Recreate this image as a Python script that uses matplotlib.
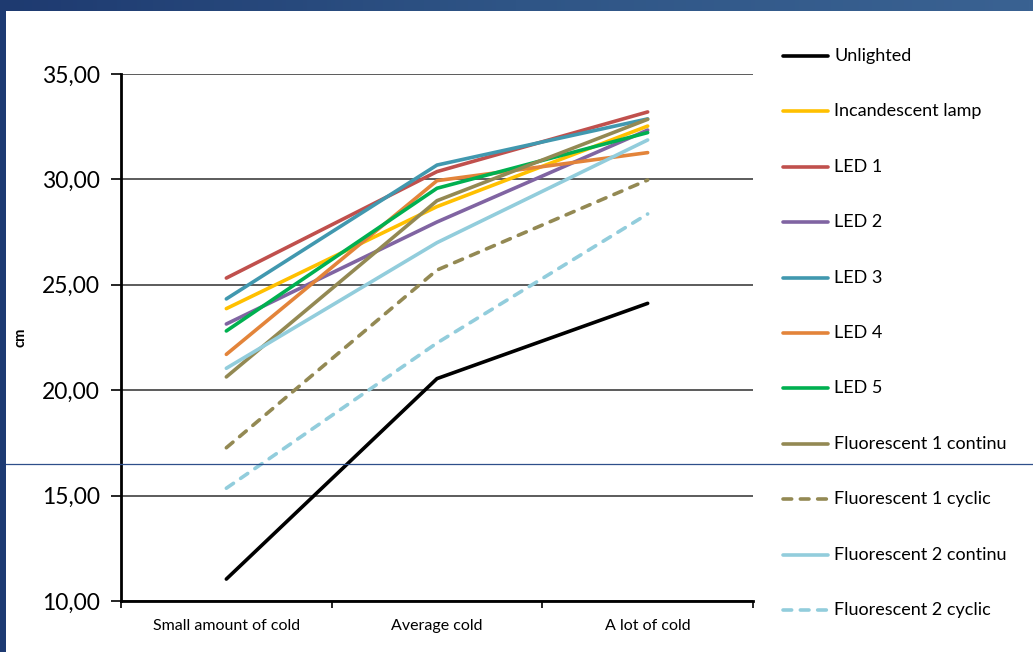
import matplotlib
matplotlib.use("Agg")
import matplotlib.pyplot as plt
import numpy as np
from matplotlib.lines import Line2D
from matplotlib.ticker import FuncFormatter
from matplotlib.colors import LinearSegmentedColormap

plt.rcParams['font.family'] = ['Lato', 'DejaVu Sans']

categories = ['Small amount of cold', 'Average cold', 'A lot of cold']
series_names = ['Unlighted', 'Incandescent lamp', 'LED 1', 'LED 2', 'LED 3', 'LED 4', 'LED 5',
                'Fluorescent 1 continu', 'Fluorescent 1 cyclic',
                'Fluorescent 2 continu', 'Fluorescent 2 cyclic']
unlighted = [11.04, 20.55, 24.12]
incandescent = [23.87, 28.71, 32.53]
led1 = [25.32, 30.37, 33.20]
led2 = [23.14, 27.98, 32.34]
led3 = [24.33, 30.68, 32.87]
led4 = [21.70, 29.94, 31.27]
led5 = [22.81, 29.58, 32.22]
fluo1_cont = [20.63, 28.99, 32.85]
fluo1_cyc = [17.27, 25.70, 29.97]
fluo2_cont = [21.04, 27.00, 31.87]
fluo2_cyc = [15.35, 22.24, 28.36]
values = [unlighted, incandescent, led1, led2, led3, led4, led5,
          fluo1_cont, fluo1_cyc, fluo2_cont, fluo2_cyc]

colors = ['#000000', '#FFC000', '#C0504D', '#8064A2', '#4198AF', '#E3843A', '#00B050',
          '#938953', '#938953', '#92CDDC', '#92CDDC']
dashed = [False] * 8 + [True, False, True]

W, H = 1033, 652
fig = plt.figure(figsize=(W / 100, H / 100), dpi=100)
fig.patch.set_facecolor('white')

# dark blue frame (top band with gradient, left strip)
top = fig.add_axes([0, 1 - 11 / H, 1, 11 / H])
grad = np.linspace(0, 1, 256).reshape(1, -1)
cmap = LinearSegmentedColormap.from_list('band', ['#1E3A70', '#2F5586', '#3A6292'])
top.imshow(grad, aspect='auto', cmap=cmap, extent=[0, 1, 0, 1])
top.axis('off')
left = fig.add_axes([0, 0, 6 / W, 1 - 11 / H])
left.set_facecolor('#1D3A72')
left.set_xticks([]); left.set_yticks([])
for s in left.spines.values():
    s.set_visible(False)

ax = fig.add_axes([121 / W, 1 - 601 / H, (753 - 121) / W, (601 - 74) / H])
x = np.arange(len(categories))
lw = 2.6
for name, vals, c, d in zip(series_names, values, colors, dashed):
    if d:
        ax.plot(x, vals, color=c, lw=lw, dashes=(2.4, 2.4), dash_capstyle='round', label=name)
    else:
        ax.plot(x, vals, color=c, lw=lw, solid_capstyle='round', solid_joinstyle='round', label=name)

ax.set_xlim(-0.5, len(categories) - 0.5)
ax.set_ylim(10, 35)
ax.set_yticks(np.arange(10, 36, 5))
ax.yaxis.set_major_formatter(FuncFormatter(lambda v, p: f'{v:.2f}'.replace('.', ',')))
ax.grid(axis='y', color='#404040', lw=1.2)
ax.set_axisbelow(True)
ax.set_xticks(np.arange(len(categories) + 1) - 0.5)
ax.set_xticklabels([])
ax.set_xticks(x, minor=True)
ax.set_xticklabels(categories, minor=True, fontsize=11.5)
ax.tick_params(axis='x', which='minor', length=0, pad=13)
ax.tick_params(axis='x', which='major', length=5, width=1.2, direction='out')
ax.tick_params(axis='y', length=7, width=1.2, labelsize=16.5, pad=8)
for side in ['top', 'right']:
    ax.spines[side].set_visible(False)
ax.spines['left'].set_linewidth(2)
ax.spines['bottom'].set_linewidth(2)
ax.set_ylabel('cm', fontsize=10.5, fontweight='bold')
ax.yaxis.set_label_coords((28 - 121) / (753 - 121), 0.5)

# legend drawn at the right
y0, dy = 56, 55.4
for i, (name, c, d) in enumerate(zip(series_names, colors, dashed)):
    yy = 1 - (y0 + i * dy) / H
    kw = dict(dashes=(2.4, 2.4), dash_capstyle='round') if d else dict(solid_capstyle='round')
    fig.add_artist(Line2D([783 / W, 828 / W], [yy, yy], color=c, lw=lw, **kw))
    fig.text(834 / W, yy, name, fontsize=13, va='center', ha='left')

# thin blue separator line
fig.add_artist(Line2D([6 / W, 1], [1 - 463.5 / H] * 2, color='#2E4F8A', lw=0.9, zorder=10))

fig.savefig('out.png', dpi=100)
